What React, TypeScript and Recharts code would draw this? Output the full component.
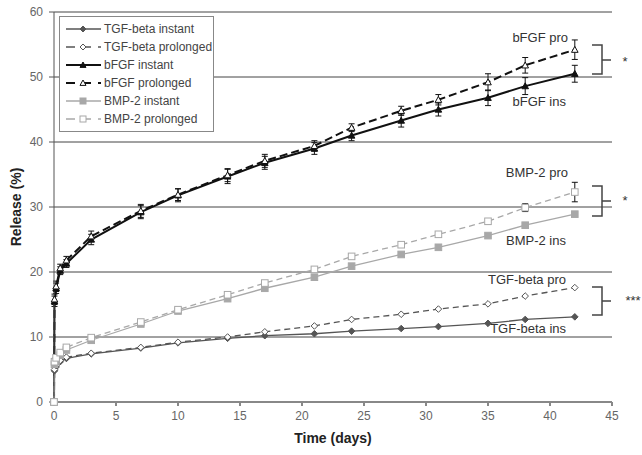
import { LineChart, Line, XAxis, YAxis, CartesianGrid, ErrorBar } from "recharts";

// sampling times (days)
const times = [0, 0.04, 0.17, 0.5, 1, 3, 7, 10, 14, 17, 21, 24, 28, 31, 35, 38, 42];

const tgfInstant = [0, 4.8, 5.4, 6.2, 6.7, 7.4, 8.3, 9.1, 9.8, 10.2, 10.5, 10.9, 11.3, 11.6, 12.1, 12.7, 13.1];
const tgfProlonged = [0, 5.0, 5.6, 6.4, 6.9, 7.5, 8.4, 9.2, 10.0, 10.8, 11.7, 12.7, 13.5, 14.3, 15.1, 16.3, 17.6];
const bfgfInstant = [0, 15.5, 17.5, 20.2, 21.3, 25.0, 29.2, 31.8, 34.7, 36.8, 39.0, 41.0, 43.3, 45.0, 46.8, 48.6, 50.5];
const bfgfProlonged = [0, 15.8, 17.8, 20.6, 21.8, 25.5, 29.4, 31.9, 34.9, 37.1, 39.4, 42.2, 44.8, 46.5, 49.2, 51.8, 54.2];
const bmpInstant = [0, 5.8, 6.3, 7.2, 8.0, 9.5, 12.0, 14.0, 15.9, 17.5, 19.2, 20.9, 22.7, 23.8, 25.6, 27.2, 28.9];
const bmpProlonged = [0, 6.2, 6.8, 7.6, 8.4, 9.9, 12.3, 14.2, 16.5, 18.3, 20.4, 22.4, 24.2, 25.8, 27.8, 29.9, 32.3];

// standard deviations
const bfgfInstantErr = [0, 0.8, 0.8, 0.6, 0.6, 0.8, 1.0, 1.0, 1.1, 1.0, 0.9, 0.8, 1.0, 1.0, 1.2, 1.3, 1.3];
const bfgfProlongedErr = [0, 0.8, 0.8, 0.6, 0.6, 0.8, 1.0, 0.9, 1.0, 1.0, 0.8, 0.6, 0.7, 0.8, 1.3, 1.2, 1.5];
const bmpProlongedErr = [0, 0.3, 0.3, 0.3, 0.3, 0.3, 0.3, 0.3, 0.3, 0.3, 0.3, 0.3, 0.3, 0.3, 0.4, 0.6, 1.5];

const xTicks = [0, 5, 10, 15, 20, 25, 30, 35, 40, 45];
const yTicks = [0, 10, 20, 30, 40, 50, 60];

const data = times.map((t, i) => ({
  t,
  tgfI: tgfInstant[i],
  tgfP: tgfProlonged[i],
  bfgfI: bfgfInstant[i],
  bfgfP: bfgfProlonged[i],
  bmpI: bmpInstant[i],
  bmpP: bmpProlonged[i],
  bfgfIErr: bfgfInstantErr[i],
  bfgfPErr: bfgfProlongedErr[i],
  bmpPErr: bmpProlongedErr[i],
}));

type Shape = "diamond" | "triangle" | "square";

const marker = (shape: Shape, stroke: string, fill: string, s = 3.3) => (p: any) => {
  const { cx, cy, index } = p;
  if (cx == null || cy == null) return <g key={index} />;
  if (shape === "diamond")
    return <polygon key={index} points={`${cx},${cy - s} ${cx + s},${cy} ${cx},${cy + s} ${cx - s},${cy}`} fill={fill} stroke={stroke} strokeWidth={1} />;
  if (shape === "triangle")
    return <polygon key={index} points={`${cx},${cy - s} ${cx + s},${cy + s * 0.8} ${cx - s},${cy + s * 0.8}`} fill={fill} stroke={stroke} strokeWidth={1} />;
  return <rect key={index} x={cx - s} y={cy - s} width={s * 2} height={s * 2} fill={fill} stroke={stroke} strokeWidth={1} />;
};

const series = [
  { key: "tgfI", name: "TGF-beta instant", color: "#555", dash: undefined, shape: "diamond" as Shape, fill: "#555", w: 1.3 },
  { key: "tgfP", name: "TGF-beta prolonged", color: "#555", dash: "6 4", shape: "diamond" as Shape, fill: "#fff", w: 1.3 },
  { key: "bfgfI", name: "bFGF instant", color: "#111", dash: undefined, shape: "triangle" as Shape, fill: "#111", w: 2 },
  { key: "bfgfP", name: "bFGF prolonged", color: "#111", dash: "8 4", shape: "triangle" as Shape, fill: "#fff", w: 2 },
  { key: "bmpI", name: "BMP-2 instant", color: "#a8a8a8", dash: undefined, shape: "square" as Shape, fill: "#a8a8a8", w: 1.3 },
  { key: "bmpP", name: "BMP-2 prolonged", color: "#a8a8a8", dash: "6 4", shape: "square" as Shape, fill: "#fff", w: 1.3 },
];

const errKeys: Record<string, string> = { bfgfI: "bfgfIErr", bfgfP: "bfgfPErr", bmpP: "bmpPErr" };

const font = "'Liberation Sans', Arial, sans-serif";

const LegendBox = () => (
  <div
    style={{
      position: "absolute",
      left: 59,
      top: 16,
      width: 155,
      boxSizing: "border-box",
      border: "1px solid #888",
      background: "#fff",
      padding: "3px 4px 3px 5px",
      fontFamily: font,
      fontSize: 12,
      color: "#444",
      whiteSpace: "nowrap",
    }}
  >
    {series.map((s) => (
      <div key={s.key} style={{ display: "flex", alignItems: "center", height: 18 }}>
        <svg width={38} height={12} style={{ marginRight: 1, flex: "none" }}>
          <line x1={1} y1={6} x2={36} y2={6} stroke={s.color} strokeWidth={s.w} strokeDasharray={s.dash ? "9 7" : undefined} />
          {marker(s.shape, s.color, s.fill, 3)({ cx: 18, cy: 6, index: 0 })}
        </svg>
        <span>{s.name}</span>
      </div>
    ))}
  </div>
);

const annoFont = { fontFamily: font, fontSize: 13, fill: "#333" };

export default function App() {
  return (
    <div style={{ position: "absolute", left: 0, top: 0, width: 642, height: 455, background: "#fff" }}>
      <LineChart width={642} height={455} data={data} margin={{ top: 12, right: 30, bottom: 23, left: 0 }}>
        <CartesianGrid vertical={false} stroke="#444" strokeWidth={1} />
        <XAxis
          dataKey="t"
          type="number"
          domain={[0, 45]}
          ticks={xTicks}
          height={30}
          stroke="#888"
          strokeWidth={2}
          tickSize={4}
          tickMargin={5}
          tick={{ fill: "#666", fontSize: 12, fontFamily: font }}
          label={{ value: "Time (days)", position: "insideBottom", offset: -11, style: { fill: "#222", fontWeight: "bold", fontSize: 14, fontFamily: font } }}
        />
        <YAxis
          type="number"
          domain={[0, 60]}
          ticks={yTicks}
          width={54}
          stroke="#555"
          tickSize={5}
          tickMargin={6}
          tick={{ fill: "#666", fontSize: 12, fontFamily: font }}
          label={{ value: "Release (%)", angle: -90, position: "insideLeft", offset: 16, style: { textAnchor: "middle", fill: "#222", fontWeight: "bold", fontSize: 14, fontFamily: font } }}
        />
        {series.map((s) => (
          <Line
            key={s.key}
            dataKey={s.key}
            name={s.name}
            stroke={s.color}
            strokeWidth={s.w}
            strokeDasharray={s.dash}
            dot={marker(s.shape, s.color, s.fill)}
            activeDot={false}
            isAnimationActive={false}
          >
            {errKeys[s.key] && <ErrorBar dataKey={errKeys[s.key]} direction="y" width={3} stroke="#111" strokeWidth={1} />}
          </Line>
        ))}
      </LineChart>
      <LegendBox />
      <svg width={642} height={455} style={{ position: "absolute", left: 0, top: 0, pointerEvents: "none" }}>
        <text x={568} y={42} textAnchor="end" {...annoFont}>bFGF pro</text>
        <text x={566} y={106} textAnchor="end" {...annoFont}>bFGF ins</text>
        <text x={568} y={177} textAnchor="end" {...annoFont}>BMP-2 pro</text>
        <text x={566} y={245} textAnchor="end" {...annoFont}>BMP-2 ins</text>
        <text x={566} y={284} textAnchor="end" {...annoFont}>TGF-beta pro</text>
        <text x={566} y={333} textAnchor="end" {...annoFont}>TGF-beta ins</text>
        <g stroke="#444" strokeWidth={1.5} fill="none">
          <path d="M592 45 H602 V74 H592 M602 60 H611" />
          <path d="M592 186 H602 V216 H592 M602 201 H611" />
          <path d="M592 287 H602 V315 H592 M602 301 H611" />
        </g>
        <text x={625} y={66} textAnchor="middle" {...annoFont}>*</text>
        <text x={625} y={205} textAnchor="middle" {...annoFont}>*</text>
        <text x={633} y={305} textAnchor="middle" {...annoFont}>***</text>
      </svg>
    </div>
  );
}
